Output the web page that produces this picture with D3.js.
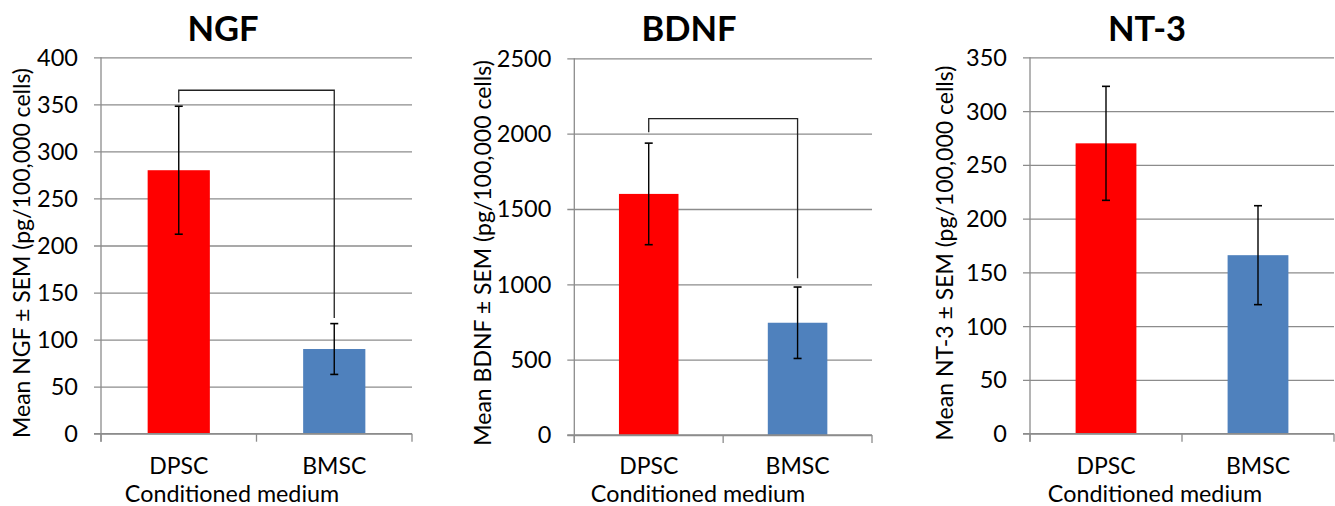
<!DOCTYPE html>
<html>
<head>
<meta charset="utf-8">
<script src="https://cdn.jsdelivr.net/npm/d3@7"></script>
<style>
  html, body { margin: 0; padding: 0; background: #fff; }
  svg { display: block; }
  text { font-family: Lato, "Open Sans", "Liberation Sans", sans-serif; fill: #000; }
</style>
</head>
<body>
<svg id="chart" width="1335" height="506"></svg>
<script>
// ---------- data ----------
const categories = ["DPSC", "BMSC"];

const ngfMeans = [280, 90];
const ngfSEM   = [68, 27];
const ngfTicks = [0, 50, 100, 150, 200, 250, 300, 350, 400];
const ngfBracket = [352, 365, 123]; // left leg end, top, right leg end

const bdnfMeans = [1600, 745];
const bdnfSEM   = [337, 237];
const bdnfTicks = [0, 500, 1000, 1500, 2000, 2500];
const bdnfBracket = [2010, 2100, 1040];

const nt3Means = [270, 166];
const nt3SEM   = [53, 46];
const nt3Ticks = [0, 50, 100, 150, 200, 250, 300, 350];

const titles = ["NGF", "BDNF", "NT-3"];
const yTitles = ["Mean NGF ± SEM (pg/100,000 cells)", "Mean BDNF ± SEM (pg/100,000 cells)", "Mean NT-3 ± SEM (pg/100,000 cells)"];
const xTitle = "Conditioned medium";
const barColors = ["#ff0000", "#4f81bd"];

// ---------- layout ----------
const panels = [
  { means: ngfMeans, sem: ngfSEM, ticks: ngfTicks, bracket: ngfBracket, title: titles[0], yTitle: yTitles[0],
    x0: 101, x1: 412, yTop: 57.3, yBot: 433.7, titleX: 223, yTitleX: 22, xTitleX: 232 },
  { means: bdnfMeans, sem: bdnfSEM, ticks: bdnfTicks, bracket: bdnfBracket, title: titles[1], yTitle: yTitles[1],
    x0: 574.3, x1: 872, yTop: 58.3, yBot: 435, titleX: 689, yTitleX: 483, xTitleX: 698 },
  { means: nt3Means, sem: nt3SEM, ticks: nt3Ticks, bracket: null, title: titles[2], yTitle: yTitles[2],
    x0: 1030, x1: 1334, yTop: 57.3, yBot: 433.7, titleX: 1147, yTitleX: 945, xTitleX: 1155 }
];

const svg = d3.select("#chart");
const gridColor = "#8c8c8c";

panels.forEach(p => {
  const g = svg.append("g");
  const maxV = p.ticks[p.ticks.length - 1];
  const y = d3.scaleLinear().domain([0, maxV]).range([p.yBot, p.yTop]);
  const x = d3.scaleBand().domain(categories).range([p.x0, p.x1]).paddingInner(0.6).paddingOuter(0.3);

  // gridlines + left tick marks via axis
  const yAxis = d3.axisLeft(y).tickValues(p.ticks).tickSize(-(p.x1 - p.x0)).tickFormat("");
  const ga = g.append("g").attr("transform", `translate(${p.x0},0)`).call(yAxis);
  ga.select(".domain").remove();
  ga.selectAll(".tick line").attr("stroke", gridColor).attr("stroke-width", 1.3).attr("x1", -7);

  // tick labels
  g.selectAll(".ylab").data(p.ticks).enter().append("text")
    .attr("x", p.x0 - 23).attr("y", d => y(d)).attr("dy", "0.36em")
    .attr("text-anchor", "end").style("font-size", "23.5px").text(d => d);

  // vertical axis line
  g.append("line").attr("x1", p.x0).attr("x2", p.x0).attr("y1", p.yTop).attr("y2", p.yBot + 8)
    .attr("stroke", gridColor).attr("stroke-width", 1.3);
  // bottom category separator ticks
  const seps = [p.x0, (p.x0 + p.x1) / 2, p.x1];
  g.selectAll(".sep").data(seps).enter().append("line")
    .attr("x1", d => d).attr("x2", d => d).attr("y1", p.yBot).attr("y2", p.yBot + 8)
    .attr("stroke", gridColor).attr("stroke-width", 1.3);

  // bars
  g.selectAll(".bar").data(p.means).enter().append("rect")
    .attr("x", (d, i) => x(categories[i])).attr("width", x.bandwidth())
    .attr("y", d => y(d)).attr("height", d => p.yBot - y(d))
    .attr("fill", (d, i) => barColors[i]);

  // redraw baseline over bars
  g.append("line").attr("x1", p.x0 - 7).attr("x2", p.x1).attr("y1", p.yBot).attr("y2", p.yBot)
    .attr("stroke", gridColor).attr("stroke-width", 1.3);

  // error bars
  const eb = g.selectAll(".eb").data(p.means).enter().append("g");
  eb.append("line")
    .attr("x1", (d, i) => x(categories[i]) + x.bandwidth() / 2)
    .attr("x2", (d, i) => x(categories[i]) + x.bandwidth() / 2)
    .attr("y1", (d, i) => y(d + p.sem[i])).attr("y2", (d, i) => y(d - p.sem[i]))
    .attr("stroke", "#000").attr("stroke-width", 1.4);
  [1, -1].forEach(s => {
    eb.append("line")
      .attr("x1", (d, i) => x(categories[i]) + x.bandwidth() / 2 - 4)
      .attr("x2", (d, i) => x(categories[i]) + x.bandwidth() / 2 + 4)
      .attr("y1", (d, i) => y(d + s * p.sem[i])).attr("y2", (d, i) => y(d + s * p.sem[i]))
      .attr("stroke", "#000").attr("stroke-width", 1.6);
  });

  // significance bracket
  if (p.bracket) {
    const cx0 = x(categories[0]) + x.bandwidth() / 2;
    const cx1 = x(categories[1]) + x.bandwidth() / 2;
    const path = d3.path();
    path.moveTo(cx0, y(p.bracket[0]));
    path.lineTo(cx0, y(p.bracket[1]));
    path.lineTo(cx1, y(p.bracket[1]));
    path.lineTo(cx1, y(p.bracket[2]));
    g.append("path").attr("d", path.toString()).attr("fill", "none")
      .attr("stroke", "#222").attr("stroke-width", 1.3);
  }

  // category labels
  g.selectAll(".cat").data(categories).enter().append("text")
    .attr("x", d => x(d) + x.bandwidth() / 2).attr("y", 474)
    .attr("text-anchor", "middle").style("font-size", "23px").text(d => d);

  // x title
  g.append("text").attr("x", p.xTitleX).attr("y", 502).attr("text-anchor", "middle")
    .style("font-size", "23.3px").text(xTitle);

  // y title
  g.append("text").attr("transform", `translate(${p.yTitleX},253) rotate(-90)`)
    .attr("text-anchor", "middle").attr("dy", "0.35em").style("font-size", "23px").text(p.yTitle);

  // panel title
  g.append("text").attr("x", p.titleX).attr("y", 41).attr("text-anchor", "middle")
    .style("font-size", "34.5px").style("font-weight", "bold").text(p.title);
});
</script>
</body>
</html>
